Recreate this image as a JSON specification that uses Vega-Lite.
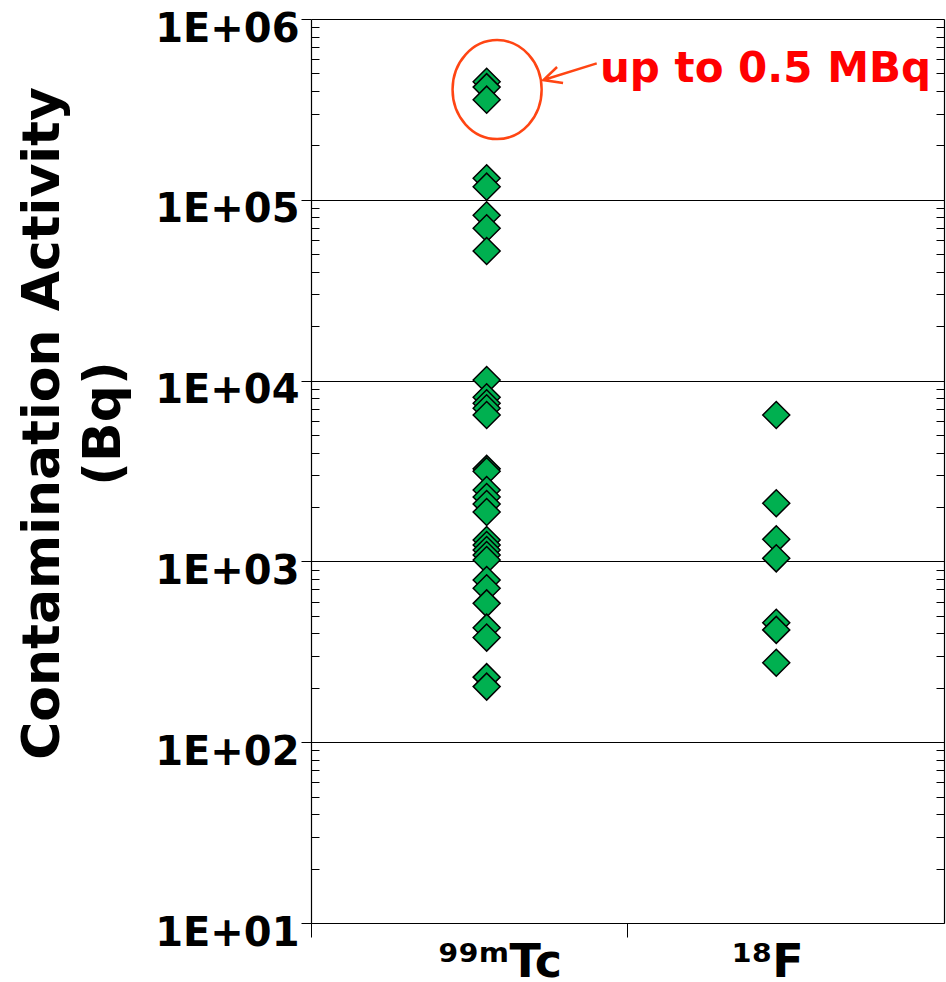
{
  "$schema": "https://vega.github.io/schema/vega-lite/v6.json",
  "width": 633,
  "height": 904,
  "autosize": {"type": "none"},
  "padding": {"left": 311, "top": 19, "right": 2, "bottom": 59},
  "background": "white",
  "config": {"view": {"stroke": null}, "font": "DejaVu Sans"},
  "datasets": {
    "pts": [
      {"isotope": "99mTc", "value": 450000},
      {"isotope": "99mTc", "value": 420000},
      {"isotope": "99mTc", "value": 358000},
      {"isotope": "99mTc", "value": 131500},
      {"isotope": "99mTc", "value": 118200},
      {"isotope": "99mTc", "value": 82100},
      {"isotope": "99mTc", "value": 69600},
      {"isotope": "99mTc", "value": 52100},
      {"isotope": "99mTc", "value": 10080},
      {"isotope": "99mTc", "value": 8090},
      {"isotope": "99mTc", "value": 7490},
      {"isotope": "99mTc", "value": 7030},
      {"isotope": "99mTc", "value": 6450},
      {"isotope": "99mTc", "value": 3250},
      {"isotope": "99mTc", "value": 3150},
      {"isotope": "99mTc", "value": 2483},
      {"isotope": "99mTc", "value": 2270},
      {"isotope": "99mTc", "value": 2075},
      {"isotope": "99mTc", "value": 1875},
      {"isotope": "99mTc", "value": 1313},
      {"isotope": "99mTc", "value": 1233},
      {"isotope": "99mTc", "value": 1157},
      {"isotope": "99mTc", "value": 1085},
      {"isotope": "99mTc", "value": 1018},
      {"isotope": "99mTc", "value": 789},
      {"isotope": "99mTc", "value": 710},
      {"isotope": "99mTc", "value": 586},
      {"isotope": "99mTc", "value": 430},
      {"isotope": "99mTc", "value": 379},
      {"isotope": "99mTc", "value": 229},
      {"isotope": "99mTc", "value": 203},
      {"isotope": "18F", "value": 6450},
      {"isotope": "18F", "value": 2096},
      {"isotope": "18F", "value": 1325},
      {"isotope": "18F", "value": 1040},
      {"isotope": "18F", "value": 458},
      {"isotope": "18F", "value": 418},
      {"isotope": "18F", "value": 275}
    ],
    "ellipse": [{"isotope": "99mTc", "value": 407000}],
    "note": [{"isotope": "99mTc", "value": 450000, "label": "up to 0.5 MBq"}]
  },
  "resolve": {"axis": {"y": "independent"}},
  "layer": [
    {
      "data": {"name": "pts"},
      "transform": [{"filter": "datum.isotope == '99mTc'"}],
      "mark": {"type": "point", "shape": "diamond", "filled": true, "size": 729, "fill": "#00B050", "stroke": "black", "strokeWidth": 1.5, "opacity": 1},
      "encoding": {
        "x": {
          "field": "isotope", "type": "nominal", "bandPosition": 0.555,
          "scale": {"type": "band", "domain": ["99mTc", "18F"], "paddingInner": 0, "paddingOuter": 0},
          "axis": {
            "title": null, "orient": "bottom", "bandPosition": 0,
            "labelExpr": "datum.value == '99mTc' ? '⁹⁹ᵐTc' : '¹⁸F'",
            "labelFont": "DejaVu Sans", "labelFontWeight": "bold", "labelFontSize": 46, "labelColor": "black",
            "labelAngle": 0, "labelAlign": "center", "labelBaseline": "top", "labelPadding": 3,
            "labelOffset": {"condition": {"test": "datum.value == '99mTc'", "value": 31}, "value": -18},
            "tickSize": 14, "tickColor": "black", "tickWidth": 1, "domainColor": "black", "domainWidth": 1.2,
            "grid": false
          }
        },
        "y": {
          "field": "value", "type": "quantitative",
          "scale": {"type": "log", "domain": [10, 1000000], "nice": false},
          "axis": {
            "orient": "left",
            "values": [10, 100, 1000, 10000, 100000, 1000000],
            "labelExpr": "'1E+0' + round(log(datum.value) / LN10)",
            "labelFont": "DejaVu Sans", "labelFontWeight": "bold", "labelFontSize": 40, "labelColor": "black",
            "labelPadding": 2, "labelOffset": 10,
            "tickSize": 10, "tickColor": "black", "domainColor": "black", "domainWidth": 1.2,
            "grid": true, "gridColor": "black", "gridWidth": 1, "gridOpacity": 1,
            "title": ["Contamination Activity", "(Bq)"],
            "titleFont": "DejaVu Sans", "titleFontWeight": "bold", "titleFontSize": 52, "titleColor": "black",
            "titleAngle": -90, "titleAlign": "center", "titleBaseline": "top", "titleLineHeight": 61,
            "titleX": -294, "titleY": 404, "titleAnchor": null
          }
        }
      }
    },
    {
      "data": {"name": "pts"},
      "transform": [{"filter": "datum.isotope == '18F'"}],
      "mark": {"type": "point", "shape": "diamond", "filled": true, "size": 729, "fill": "#00B050", "stroke": "black", "strokeWidth": 1.5, "opacity": 1},
      "encoding": {
        "x": {"field": "isotope", "type": "nominal", "bandPosition": 0.47},
        "y": {"field": "value", "type": "quantitative", "axis": null}
      }
    },
    {
      "data": {"name": "pts"},
      "mark": {"type": "point", "opacity": 0},
      "encoding": {
        "y": {
          "field": "value", "type": "quantitative",
          "axis": {
            "orient": "left", "title": null, "labels": false, "domain": false, "grid": false,
            "tickSize": -8, "tickColor": "black",
            "values": [20,30,40,50,60,70,80,90,200,300,400,500,600,700,800,900,2000,3000,4000,5000,6000,7000,8000,9000,20000,30000,40000,50000,60000,70000,80000,90000,200000,300000,400000,500000,600000,700000,800000,900000]
          }
        }
      }
    },
    {
      "data": {"name": "pts"},
      "mark": {"type": "point", "opacity": 0},
      "encoding": {
        "y": {
          "field": "value", "type": "quantitative",
          "axis": {
            "orient": "right", "title": null, "labels": false, "domain": true, "domainColor": "black", "domainWidth": 1.2, "grid": false,
            "tickSize": -8, "tickColor": "black",
            "values": [20,30,40,50,60,70,80,90,200,300,400,500,600,700,800,900,2000,3000,4000,5000,6000,7000,8000,9000,20000,30000,40000,50000,60000,70000,80000,90000,200000,300000,400000,500000,600000,700000,800000,900000]
          }
        }
      }
    },
    {
      "data": {"name": "ellipse"},
      "mark": {"type": "point", "shape": "M -0.9 0 A 0.9 1 0 1 1 0.9 0 A 0.9 1 0 1 1 -0.9 0 Z", "size": 9801, "filled": false, "stroke": "#FF4513", "strokeWidth": 2.5, "opacity": 1},
      "encoding": {
        "x": {"field": "isotope", "type": "nominal", "bandPosition": 0.588},
        "y": {"field": "value", "type": "quantitative", "axis": null}
      }
    },
    {
      "data": {"name": "note"},
      "mark": {"type": "point", "shape": "M 0.953 -0.298 L -0.953 0.298 M -0.464 -0.168 L -0.953 0.298 L -0.25 0.405", "size": 3136, "filled": false, "stroke": "#FF4513", "strokeWidth": 2.5, "opacity": 1, "xOffset": -22, "yOffset": -10},
      "encoding": {
        "x": {"field": "isotope", "type": "nominal", "bandPosition": 0.888},
        "y": {"field": "value", "type": "quantitative", "axis": null}
      }
    },
    {
      "data": {"name": "note"},
      "mark": {"type": "text", "align": "left", "baseline": "alphabetic", "font": "DejaVu Sans", "fontWeight": "bold", "fontSize": 42, "color": "#FF0000"},
      "encoding": {
        "x": {"field": "isotope", "type": "nominal", "bandPosition": 0.913},
        "y": {"field": "value", "type": "quantitative", "axis": null},
        "text": {"field": "label"}
      }
    }
  ]
}
